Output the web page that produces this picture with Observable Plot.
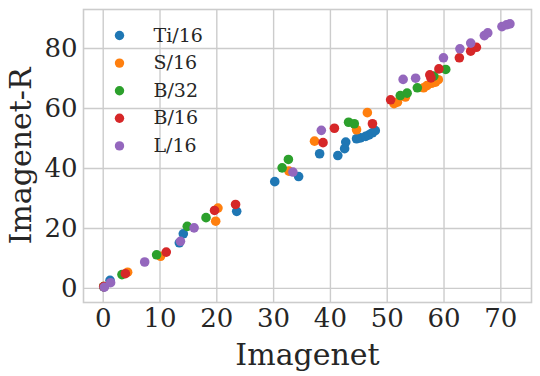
<!DOCTYPE html>
<html>
<head>
<meta charset="utf-8">
<script src="https://cdn.jsdelivr.net/npm/d3@7"></script>
<script src="https://cdn.jsdelivr.net/npm/@observablehq/plot@0.6"></script>
<style>
  html, body { margin: 0; padding: 0; background: #fff; }
  #chart svg { display: block; }
</style>
</head>
<body>
<div id="chart"></div>
<script>
const seriesNames = ["Ti/16", "S/16", "B/32", "B/16", "L/16"];
const seriesColors = ["#1f77b4", "#ff7f0e", "#2ca02c", "#d62728", "#9467bd"];

// [Imagenet, Imagenet-R] per model
const ti16 = [[0.1,0.5],[1.2,2.7],[13.4,15.2],[14.1,18.2],[23.5,25.7],[30.2,35.6],[34.4,37.3],[38.1,44.9],[41.3,44.3],[42.5,46.6],[42.7,48.8],[44.6,49.9],[45.3,50.2],[46.2,50.7],[46.8,51.2],[47.4,51.9],[47.9,52.6]];
const s16 = [[0.1,0.6],[4.3,5.4],[10.1,10.7],[19.8,22.4],[20.2,26.8],[32.7,39.1],[37.2,49.1],[44.6,52.9],[46.5,58.6],[51.2,61.6],[51.8,62.1],[53.2,63.8],[56.4,66.9],[57.0,67.6],[57.8,68.4],[58.5,68.8],[59.0,69.6]];
const b32 = [[0.1,0.6],[3.3,4.6],[9.4,11.2],[14.8,20.7],[18.1,23.6],[31.5,40.2],[32.6,43.0],[43.2,55.4],[44.2,54.9],[52.3,64.3],[53.5,65.1],[55.3,66.9],[58.2,70.8],[60.3,73.0]];
const b16 = [[0.1,0.6],[3.9,4.9],[11.1,12.1],[19.6,26.0],[23.3,28.0],[38.7,48.6],[40.7,53.4],[47.4,54.9],[50.6,62.9],[57.5,71.2],[57.7,70.2],[59.1,73.2],[62.7,76.9],[64.7,79.1],[65.7,80.4]];
const l16 = [[0.2,0.4],[1.3,1.9],[7.3,8.8],[13.6,15.7],[16.0,20.2],[33.4,38.8],[38.4,52.7],[52.8,69.7],[55.0,70.1],[59.9,76.9],[62.8,79.9],[64.7,81.8],[67.1,84.3],[67.7,85.2],[70.2,87.3],[71.0,87.9],[71.6,88.2]];

const xTicks = [0, 10, 20, 30, 40, 50, 60, 70];
const yTicks = [0, 20, 40, 60, 80];

const allSeries = [ti16, s16, b32, b16, l16];
const points = allSeries.flatMap((arr, i) => arr.map(([x, y]) => ({x, y, model: seriesNames[i]})));

const font = "DejaVu Serif";
const ink = "#262626";
const gridColor = "#cccccc";

const legendMarks = seriesNames.flatMap((name, i) => [
  Plot.dot([name], {frameAnchor: "top-left", dx: 36, dy: 26 + i * 27.6, r: 4.7, fill: seriesColors[i], stroke: "none"}),
  Plot.text([name], {frameAnchor: "top-left", dx: 70, dy: 26 + i * 27.6, text: d => d, textAnchor: "start", lineAnchor: "middle", fontSize: 19, fontFamily: font, fill: ink})
]);

const chart = Plot.plot({
  width: 540,
  height: 376,
  marginLeft: 83,
  marginRight: 9,
  marginTop: 9,
  marginBottom: 74,
  style: {fontFamily: font, background: "#fff", color: ink},
  x: {domain: [-3.47, 75.4]},
  y: {domain: [-4.7, 93]},
  color: {domain: seriesNames, range: seriesColors},
  marks: [
    Plot.gridX(xTicks, {stroke: gridColor, strokeOpacity: 1, strokeWidth: 1.4}),
    Plot.gridY(yTicks, {stroke: gridColor, strokeOpacity: 1, strokeWidth: 1.4}),
    Plot.frame({stroke: gridColor, strokeWidth: 1.6}),
    Plot.axisX(xTicks, {tickSize: 0, tickPadding: 6, fontSize: 26, fontFamily: font, fill: ink, label: null}),
    Plot.axisY(yTicks, {tickSize: 0, tickPadding: 6, fontSize: 26, fontFamily: font, fill: ink, label: null}),
    Plot.dot(points, {x: "x", y: "y", fill: "model", r: 4.8, stroke: "none", fillOpacity: 1}),
    Plot.text(["Imagenet"], {frameAnchor: "bottom", dy: 62.5, textAnchor: "middle", lineAnchor: "bottom", text: d => d, fontSize: 30, fontFamily: font, fill: ink}),
    Plot.text(["Imagenet-R"], {frameAnchor: "left", dx: -52.5, textAnchor: "middle", lineAnchor: "bottom", rotate: -90, text: d => d, fontSize: 30, fontFamily: font, fill: ink}),
    ...legendMarks
  ]
});
document.getElementById("chart").appendChild(chart);
</script>
</body>
</html>
